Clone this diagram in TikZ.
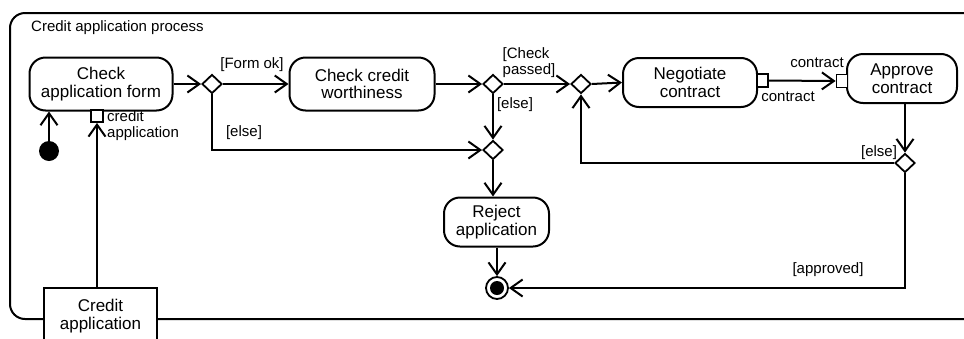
\documentclass[tikz,border=0pt]{standalone}
\usepackage{fontspec}
\setmainfont{Liberation Sans}
\usetikzlibrary{arrows.meta,shapes.geometric}
\begin{document}
\begin{tikzpicture}[x=1pt,y=-1pt,
  act/.style={draw, line width=2pt, rounded corners=16pt, align=center, font=\fontsize{17}{17.5}\selectfont, inner sep=0pt, fill=white},
  dec/.style={draw, diamond, line width=1.8pt, minimum width=20pt, minimum height=19pt, inner sep=0pt, fill=white},
  pinbox/.style={draw, line width=1.8pt, fill=white, minimum width=12pt, minimum height=12pt, inner sep=0pt},
  flow/.style={line width=2pt, -{Straight Barb[length=12pt,width=17pt]}},
  lbl/.style={font=\fontsize{15}{16}\selectfont, inner sep=0pt, align=left},
  objbox/.style={draw, line width=2pt, fill=white, align=center, font=\fontsize{17}{17.5}\selectfont, inner sep=0pt},
]
\useasboundingbox (0,0) rectangle (964,338);
% frame
\draw[line width=2pt, rounded corners=15pt] (10,319) -- (10,13) -- (990,13) -- (990,319) -- cycle;
\node[lbl, anchor=west] (title) at (31,28) {Credit application process};

% activities
\node[act, minimum width=143pt, minimum height=53pt] (a1) at (101,84) {Check\\application form};
\node[act, minimum width=145pt, minimum height=53pt] (a2) at (362,84) {Check credit\\worthiness};
\node[act, minimum width=134pt, minimum height=49pt] (a3) at (690,82.5) {Negotiate\\contract};
\node[act, minimum width=110pt, minimum height=49pt] (a4) at (902,78.5) {Approve\\contract};
\node[act, minimum width=105pt, minimum height=49pt] (a5) at (496.5,222) {Reject\\application};

% pins
\node[pinbox] (p1) at (97,116) {};
\node[pinbox, minimum width=11pt, minimum height=13pt] (p2) at (762.5,80.5) {};
\node[pinbox, minimum width=11pt, minimum height=13pt] (p3) at (842,81) {};

% decisions
\node[dec] (d1) at (212,84) {};
\node[dec] (d2) at (493,84) {};
\node[dec] (m1) at (493,150) {};
\node[dec] (d3) at (581,84) {};
\node[dec] (d4) at (905,163) {};

% initial and final
\node[circle, fill=black, minimum size=20pt, inner sep=0pt] (init) at (49,151) {};
\node[circle, draw, line width=1.8pt, fill=white, minimum size=22pt, inner sep=0pt] (fin) at (497,288) {};
\node[circle, fill=black, minimum size=14pt, inner sep=0pt] (finin) at (497,288) {};

% object
\node[objbox, minimum width=113pt, minimum height=56pt] (obj) at (100.5,316) {Credit\\application};

% connectors
\draw[flow] (init) -- (init |- a1.south);
\draw[flow] (p1 |- obj.north) -- (p1.south);
\draw[flow] (a1.east) -- (d1.west);
\draw[flow] (d1.east) -- (a2.west);
\draw[flow] (d1.south) |- (m1.west);
\draw[flow] (a2.east) -- (d2.west);
\draw[flow] (d2.east) -- (d3.west);
\draw[flow] (d2.south) -- (m1.north);
\draw[flow] (m1.south) -- (m1.south |- a5.north);
\draw[flow] (d3.east) -- (a3.west);
\draw[flow] (p2.east) -- (p3.west);
\draw[flow] (d4 |- a4.south) -- (d4.north);
\draw[flow] (d4.west) -| (d3.south);
\draw[flow] (d4.south) |- (fin.east);
\draw[flow] (fin |- a5.south) -- (fin.north);

% labels
\node[lbl, anchor=west] (l1) at (107,126) {credit\\application};
\node[lbl] (l2) at (252,65) {[Form ok]};
\node[lbl] (l3) at (244,133) {[else]};
\node[lbl] (l4) at (529,63) {[Check\\passed]};
\node[lbl] (l5) at (515,105) {[else]};
\node[lbl] (l6) at (788,97) {contract};
\node[lbl] (l7) at (817,63) {contract};
\node[lbl] (l8) at (879,153) {[else]};
\node[lbl] (l9) at (828,270) {[approved]};
\end{tikzpicture}
\end{document}
